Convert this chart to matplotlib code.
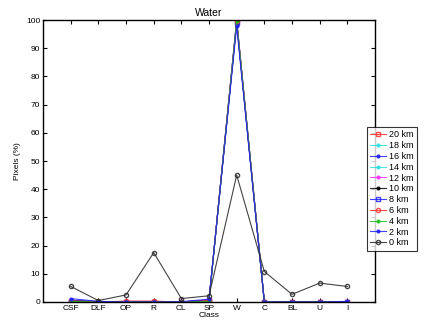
import numpy as np
import matplotlib
matplotlib.use('Agg')
import matplotlib.pyplot as plt

plt.rcParams['font.family'] = ['Liberation Sans', 'DejaVu Sans']

classes = ['CSF', 'DLF', 'OP', 'R', 'CL', 'SP', 'W', 'C', 'BL', 'U', 'I']
labels = ['20 km', '18 km', '16 km', '14 km', '12 km', '10 km', '8 km', '6 km', '4 km', '2 km', '0 km']

km20 = [0.3, 0.0, 0.0, 0.0, 0.0, 0.5, 100.0, 0.0, 0.0, 0.0, 0.0]
km18 = [0.3, 0.0, 0.0, 0.0, 0.0, 0.5, 100.0, 0.0, 0.0, 0.0, 0.0]
km16 = [0.4, 0.0, 0.0, 0.0, 0.0, 0.6, 99.5, 0.0, 0.0, 0.0, 0.0]
km14 = [0.4, 0.0, 0.0, 0.0, 0.0, 0.6, 99.5, 0.0, 0.0, 0.0, 0.0]
km12 = [0.4, 0.0, 0.2, 0.2, 0.0, 0.6, 100.0, 0.0, 0.0, 0.0, 0.0]
km10 = [0.5, 0.2, 0.0, 0.0, 0.0, 0.7, 99.0, 0.0, 0.0, 0.0, 0.0]
km8 = [0.5, 0.0, 0.0, 0.0, 0.0, 0.7, 99.0, 0.0, 0.0, 0.0, 0.0]
km6 = [0.4, 0.0, 0.3, 0.3, 0.0, 0.6, 99.5, 0.0, 0.0, 0.0, 0.0]
km4 = [0.2, 0.0, 0.0, 0.0, 0.0, 0.2, 99.8, 0.0, 0.0, 0.0, 0.0]
km2 = [1.2, 0.2, 0.0, 0.0, 0.1, 1.0, 97.8, 0.0, 0.0, 0.0, 0.2]
km0 = [5.5, 0.5, 2.5, 17.5, 1.2, 2.2, 45.0, 10.8, 2.7, 6.7, 5.5]

series = [km20, km18, km16, km14, km12, km10, km8, km6, km4, km2, km0]
colors = ['#ff3030', '#30e0e0', '#2020ff', '#30e0e0', '#ff30ff', '#000000',
          '#2020ff', '#ff3030', '#20c020', '#2020ff', '#303030']
markers = ['s', '.', '.', '.', '.', '.', 's', 'o', '.', '.', 'o']

fig = plt.figure(figsize=(4.31, 3.24), dpi=100)
ax = fig.add_axes([0.1, 0.068, 0.77, 0.87])
x = np.arange(1, len(classes) + 1)
for vals, lab, c, m in zip(series, labels, colors, markers):
    ms = 3 if m in ('s', 'o') else 4
    ax.plot(x, vals, color=c, marker=m, markersize=ms, markerfacecolor='none' if m in ('s', 'o') else c,
            linewidth=0.8, label=lab, alpha=0.85 if lab != '0 km' else 0.9)

ax.set_xlim(0, 12)
ax.set_ylim(0, 100)
ax.set_xticks(x)
ax.set_xticklabels(classes)
ax.set_yticks(np.arange(0, 101, 10))
ax.tick_params(direction='in', top=True, right=True, labelsize=6, length=3, width=0.8, pad=2)
for s in ax.spines.values():
    s.set_linewidth(1.0)
ax.set_title('Water', fontsize=7.5, pad=3)
ax.set_xlabel('Class', fontsize=6, labelpad=0)
ax.set_ylabel('Pixels (%)', fontsize=6, labelpad=4)

leg = ax.legend(loc='upper left', bbox_to_anchor=(0.976, 0.62), fontsize=6.5, frameon=True,
                fancybox=False, edgecolor='black', handlelength=1.8, labelspacing=0.2,
                borderpad=0.35, handletextpad=0.3, borderaxespad=0)
leg.get_frame().set_linewidth(0.8)

fig.savefig('out.png', dpi=100)
